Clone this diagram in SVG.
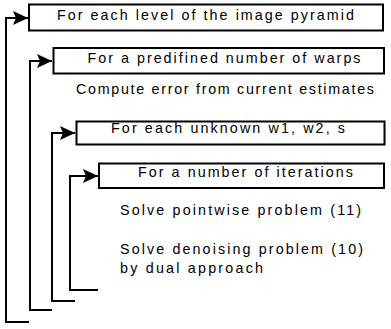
<svg xmlns="http://www.w3.org/2000/svg" width="391" height="329" viewBox="0 0 391 329">
  <style>
    .box { fill: #fff; stroke: #000; stroke-width: 2; }
    .lbl { font-family: "Liberation Sans", Arial, sans-serif; font-size: 14.3px; fill: #000; }
    .conn { fill: none; stroke: #000; stroke-width: 2; }
  </style>
  <defs>
    <marker id="arr" markerUnits="userSpaceOnUse" markerWidth="16" markerHeight="15" refX="15" refY="7" orient="auto" overflow="visible">
      <path d="M0,0 L15,7 L0,14 L3,7 Z" fill="#000"/>
    </marker>
  </defs>
  <rect width="391" height="329" fill="#fff"/>
  <g id="connectors">
    <path class="conn" d="M29,322 H6 V18 H28" marker-end="url(#arr)"/>
    <path class="conn" d="M52,310 H30 V61 H52" marker-end="url(#arr)"/>
    <path class="conn" d="M75,301 H52 V133 H75" marker-end="url(#arr)"/>
    <path class="conn" d="M98,290 H70 V176 H98" marker-end="url(#arr)"/>
  </g>
  <g id="level">
    <rect class="box" x="29" y="4.5" width="354" height="26"/>
    <text class="lbl" x="57" y="20" textLength="297" lengthAdjust="spacing">For each level of the image pyramid</text>
  </g>
  <g id="warps">
    <rect class="box" x="53.5" y="48" width="330.5" height="25.5"/>
    <text class="lbl" x="87.5" y="63" textLength="273" lengthAdjust="spacing">For a predifined number of warps</text>
  </g>
  <g id="compute">
    <text class="lbl" x="76" y="94" textLength="298" lengthAdjust="spacing">Compute error from current estimates</text>
  </g>
  <g id="unknown">
    <rect class="box" x="76.5" y="121.5" width="308" height="23"/>
    <text class="lbl" x="111" y="133" textLength="234" lengthAdjust="spacing">For each unknown w1, w2, s</text>
  </g>
  <g id="iterations">
    <rect class="box" x="99" y="163.5" width="285" height="24.5"/>
    <text class="lbl" x="138" y="177" textLength="215" lengthAdjust="spacing">For a number of iterations</text>
  </g>
  <g id="pointwise">
    <text class="lbl" x="120" y="215" textLength="241" lengthAdjust="spacing">Solve pointwise problem (11)</text>
  </g>
  <g id="denoising">
    <text class="lbl" x="120" y="254" textLength="243" lengthAdjust="spacing">Solve denoising problem (10)</text>
    <text class="lbl" x="120" y="273" textLength="143" lengthAdjust="spacing">by dual approach</text>
  </g>
</svg>
